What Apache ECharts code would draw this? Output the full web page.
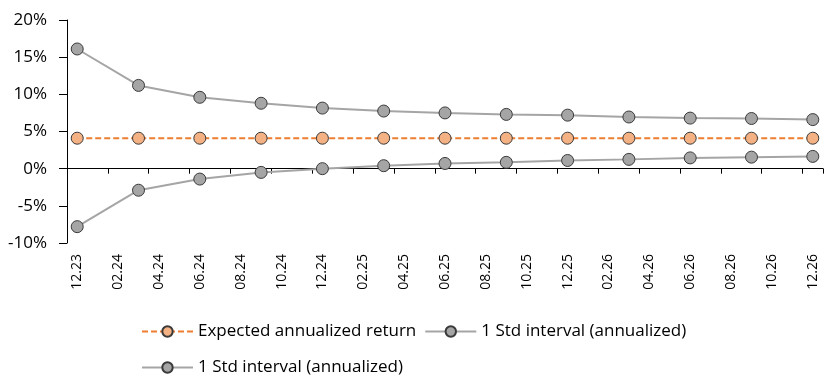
<!DOCTYPE html>
<html>
<head>
<meta charset="utf-8">
<script src="https://cdn.jsdelivr.net/npm/echarts@6/dist/echarts.min.js"></script>
<style>
html,body{margin:0;padding:0;background:#fff;}
#chart{width:834px;height:387px;}
</style>
</head>
<body>
<div id="chart"></div>
<script>
var months = ["12.23","01.24","02.24","03.24","04.24","05.24","06.24","07.24","08.24","09.24","10.24","11.24",
  "12.24","01.25","02.25","03.25","04.25","05.25","06.25","07.25","08.25","09.25","10.25","11.25",
  "12.25","01.26","02.26","03.26","04.26","05.26","06.26","07.26","08.26","09.26","10.26","11.26","12.26"];
var quarterDates = ["12.23","03.24","06.24","09.24","12.24","03.25","06.25","09.25","12.25","03.26","06.26","09.26","12.26"];
var expectedReturn = [4.1,4.1,4.1,4.1,4.1,4.1,4.1,4.1,4.1,4.1,4.1,4.1,4.1];
var upperBand = [16.1,11.2,9.6,8.8,8.15,7.75,7.5,7.3,7.2,6.95,6.8,6.75,6.6];
var lowerBand = [-7.8,-2.9,-1.4,-0.5,0.0,0.4,0.7,0.85,1.1,1.25,1.45,1.55,1.65];
var yTicks = {min:-10, max:20, interval:5};

function toPairs(vals){
  return quarterDates.map(function(d,i){ return [months.indexOf(d), vals[i]]; });
}

var FONT = "Open Sans";
var chart = echarts.init(document.getElementById('chart'), null, {renderer:'canvas'});
var gray = '#A5A5A5';
var option = {
  animation:false,
  backgroundColor:'#fff',
  textStyle:{fontFamily:FONT},
  grid:{left:67, right:11, top:20, bottom:144, containLabel:false},
  legend:[{
    left:141, top:323, padding:0, itemWidth:51, itemHeight:13, itemGap:8,
    textStyle:{fontFamily:FONT, fontSize:17, color:'#000'},
    data:['Expected annualized return','1 Std interval (annualized)']
  },{
    left:141, top:359, padding:0, itemWidth:51, itemHeight:13, itemGap:8,
    textStyle:{fontFamily:FONT, fontSize:17, color:'#000'},
    data:['1 Std interval (annualized) ']
  }],
  xAxis:[{
    type:'category', data:months, boundaryGap:true,
    axisLine:{onZero:true, lineStyle:{color:'#000', width:1}},
    axisTick:{show:true, interval:1, length:5, lineStyle:{color:'#000'}},
    axisLabel:{show:false},
    splitLine:{show:false}
  },{
    type:'category', data:months, boundaryGap:true, position:'bottom',
    axisLine:{show:false, onZero:false},
    axisTick:{show:false},
    axisLabel:{show:true, interval:1, rotate:90, margin:11, fontFamily:FONT, fontSize:14, color:'#000'},
    splitLine:{show:false}
  }],
  yAxis:{
    type:'value', min:yTicks.min, max:yTicks.max, interval:yTicks.interval,
    axisLine:{show:true, lineStyle:{color:'#000', width:1}},
    axisTick:{show:true, inside:false, length:8, lineStyle:{color:'#000'}},
    axisLabel:{formatter:'{value}%', margin:20, fontFamily:FONT, fontSize:17, color:'#000'},
    splitLine:{show:false}
  },
  series:[{
    name:'Expected annualized return', type:'line', xAxisIndex:0,
    data:toPairs(expectedReturn),
    symbol:'circle', symbolSize:12, showAllSymbol:true,
    lineStyle:{color:'#ED7D31', width:2, type:[6,3]},
    itemStyle:{color:'#F4B183', borderColor:'#3a3a3a', borderWidth:1}
  },{
    name:'1 Std interval (annualized)', type:'line', xAxisIndex:0,
    data:toPairs(upperBand),
    symbol:'circle', symbolSize:12, showAllSymbol:true,
    lineStyle:{color:gray, width:2},
    itemStyle:{color:gray, borderColor:'#3a3a3a', borderWidth:1}
  },{
    name:'1 Std interval (annualized) ', type:'line', xAxisIndex:0,
    data:toPairs(lowerBand),
    symbol:'circle', symbolSize:12, showAllSymbol:true,
    lineStyle:{color:gray, width:2},
    itemStyle:{color:gray, borderColor:'#3a3a3a', borderWidth:1}
  }]
};
chart.setOption(option);
</script>
</body>
</html>
